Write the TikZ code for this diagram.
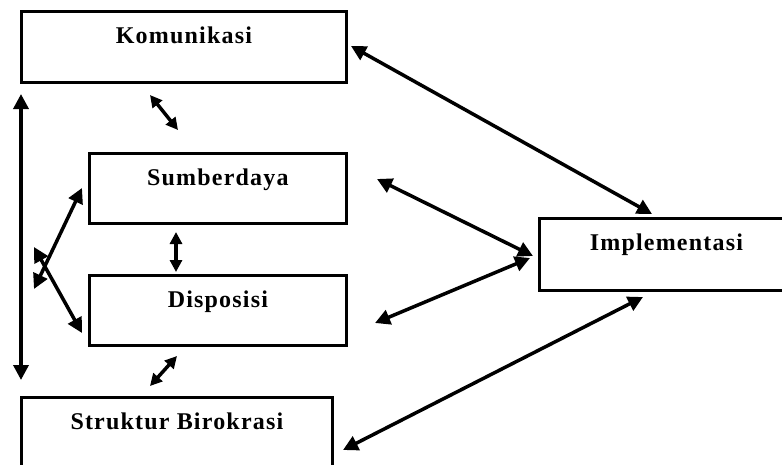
\documentclass[tikz,border=0pt]{standalone}
\usepackage{fontspec}
\newfontfamily\boxfont{Liberation Serif}[LetterSpace=5]
\usetikzlibrary{arrows.meta}
\begin{document}
\begin{tikzpicture}[x=1pt,y=-1pt,
  factor/.style={draw, line width=2.8pt, inner sep=0pt, anchor=north west,
    text height=32pt, font=\boxfont\bfseries\fontsize{24}{28}\selectfont},
  link/.style={line width=3.5pt,
    {Triangle[length=15pt,width=15pt]}-{Triangle[length=15pt,width=15pt]}},
  smalllink/.style={line width=3.5pt,
    {Triangle[length=12pt,width=12pt]}-{Triangle[length=12pt,width=12pt]}}]
\path[use as bounding box, clip] (0,0) rectangle (782,464);
\fill[white] (0,0) rectangle (782,464);

% factor boxes
\node[factor, minimum width=325pt, text depth=39pt] (kom) at (20,10) {Komunikasi};
\node[factor, minimum width=257pt, text depth=38pt] (sum) at (88,152) {Sumberdaya};
\node[factor, minimum width=257pt, text depth=38pt] (dis) at (88,274) {Disposisi};
\node[factor, minimum width=311pt, text depth=70pt] (str) at (20,396) {Struktur Birokrasi};
\node[factor, minimum width=254pt, text depth=40pt] (imp) at (538,217) {Implementasi};

% free arrow ends
\coordinate (kL1) at (21,94);   \coordinate (sL1) at (21,380);
\coordinate (kS1) at (150,95);  \coordinate (sK1) at (178,130);
\coordinate (sD1) at (176,232); \coordinate (dS1) at (176,272);
\coordinate (dT1) at (177,356); \coordinate (tD1) at (150,386);
\coordinate (xA1) at (34,289);  \coordinate (xA2) at (82,188);
\coordinate (xB1) at (34,247);  \coordinate (xB2) at (82,333);
\coordinate (kI1) at (351,46);  \coordinate (iK1) at (652,214);
\coordinate (sI1) at (377,179); \coordinate (iS1) at (533,256);
\coordinate (dI1) at (375,323); \coordinate (iD1) at (530,258);
\coordinate (tI1) at (343,450); \coordinate (iT1) at (643,297);

% connectors
\draw[link] (kL1) -- (sL1);
\draw[smalllink] (kS1) -- (sK1);
\draw[smalllink] (sD1) -- (dS1);
\draw[smalllink] (dT1) -- (tD1);
\draw[link] (xA1) -- (xA2);
\draw[link] (xB1) -- (xB2);
\draw[link] (kI1) -- (iK1);
\draw[link] (sI1) -- (iS1);
\draw[link] (dI1) -- (iD1);
\draw[link] (tI1) -- (iT1);
\end{tikzpicture}
\end{document}
